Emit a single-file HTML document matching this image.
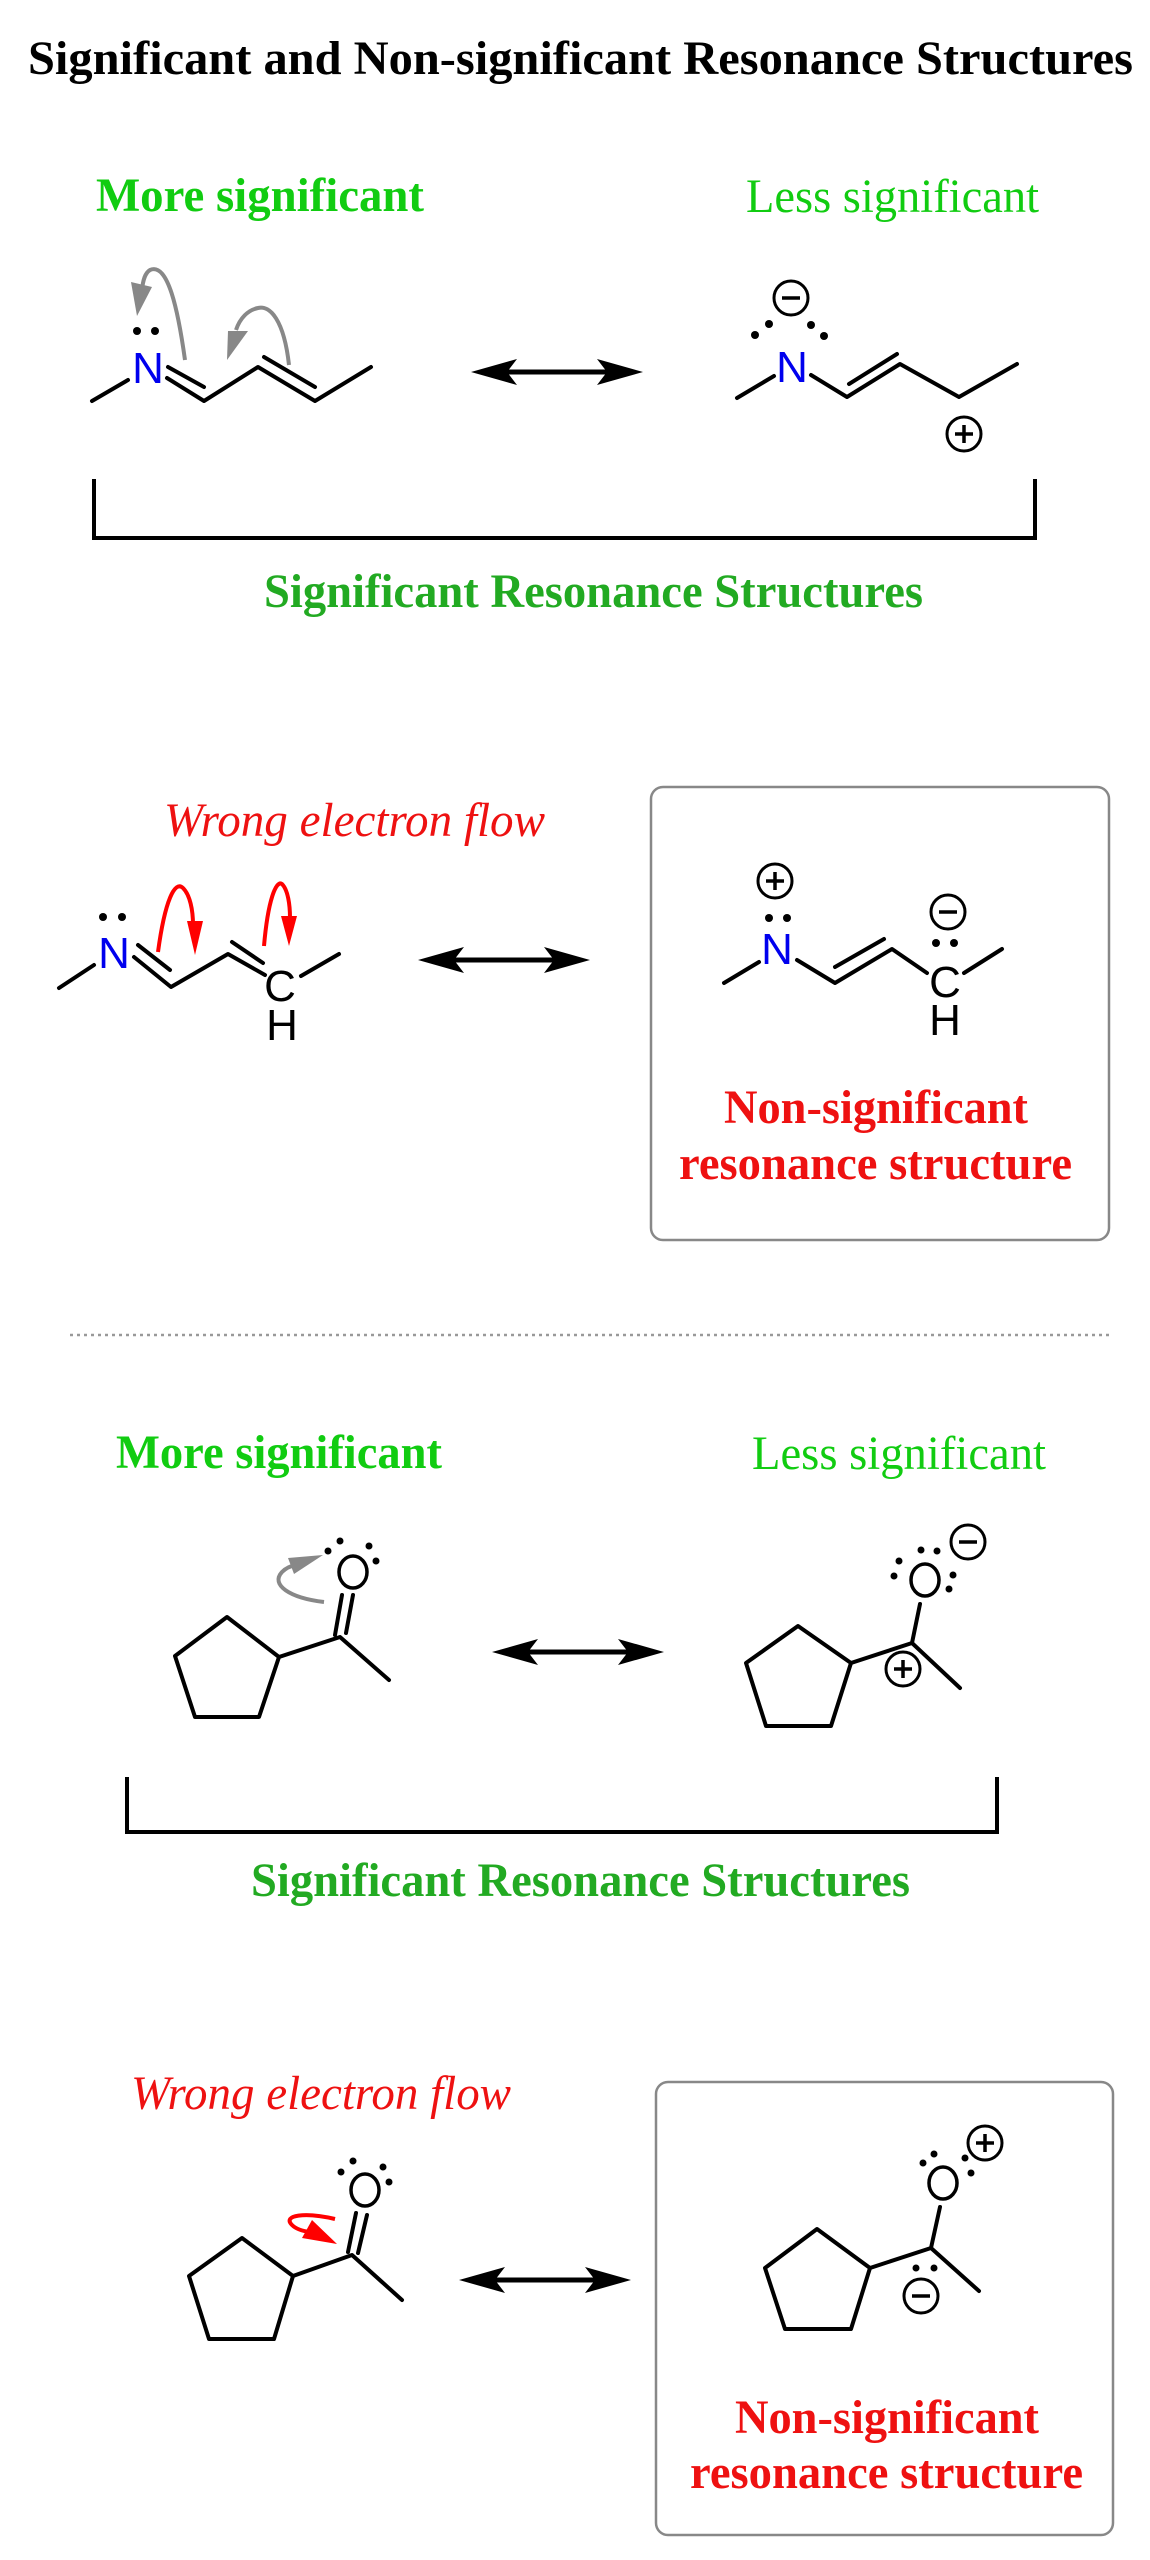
<!DOCTYPE html>
<html><head><meta charset="utf-8"><style>
html,body{margin:0;padding:0;background:#fff;}
svg{display:block;}
.b{stroke:#000;stroke-width:4;fill:none;stroke-linecap:round;stroke-linejoin:round;}
.ser{font-family:"Liberation Serif",serif;}
.sans{font-family:"Liberation Sans",sans-serif;}
</style></head><body>
<svg width="1150" height="2560" viewBox="0 0 1150 2560" xmlns="http://www.w3.org/2000/svg">
<defs>
<g id="plus"><circle r="17" fill="#fff" stroke="#000" stroke-width="3"/><path d="M-9,0H9M0,-9V9" stroke="#000" stroke-width="3.5"/></g>
<g id="minus"><circle r="17" fill="#fff" stroke="#000" stroke-width="3"/><path d="M-9,0H9" stroke="#000" stroke-width="3.5"/></g>
<g id="dbl"><path d="M-60,0 H60" stroke="#000" stroke-width="5"/><path d="M86,0 L40,-13 L50,0 L40,13 Z" fill="#000"/><path d="M-86,0 L-40,-13 L-50,0 L-40,13 Z" fill="#000"/></g>
</defs>

<text class="ser" x="28" y="74" font-size="48" font-weight="bold" textLength="1105" lengthAdjust="spacingAndGlyphs">Significant and Non-significant Resonance Structures</text>

<!-- Section 1 -->
<text class="ser" x="96" y="211" font-size="48" font-weight="bold" fill="#11cc11" textLength="328" lengthAdjust="spacingAndGlyphs">More significant</text>
<text class="ser" x="746" y="212" font-size="48" fill="#11cc11" textLength="293" lengthAdjust="spacingAndGlyphs">Less significant</text>

<path class="b" d="M92,401 L128,380"/>
<text class="sans" x="148" y="383" font-size="44" fill="#0000ee" text-anchor="middle">N</text>
<path class="b" d="M167,378 L204,401 L258,367 L315,401 L371,367"/>
<path class="b" d="M168,367 L204,387"/>
<path class="b" d="M264,357 L315,387"/>
<circle cx="137" cy="331" r="4" fill="#000"/><circle cx="155" cy="331" r="4" fill="#000"/>
<path d="M185,360 C178,310 168,262 150,270 C145,273 143,280 142,290" stroke="#888" stroke-width="4" fill="none"/>
<path d="M137,316 L131,282 L152,287 Z" fill="#888"/>
<path d="M289,365 C284,320 270,305 258,308 C248,310 240,318 236,330" stroke="#888" stroke-width="4" fill="none"/>
<path d="M227,360 L228,331 L248,331 Z" fill="#888"/>

<use href="#dbl" x="557" y="372"/>

<path class="b" d="M737,398 L774,376"/>
<text class="sans" x="792" y="382" font-size="44" fill="#0000ee" text-anchor="middle">N</text>
<path class="b" d="M811,375 L847,397 L900,364 L959,397 L1017,364"/>
<path class="b" d="M849,384 L897,354"/>
<use href="#minus" x="791" y="298"/>
<circle cx="755" cy="335" r="4" fill="#000"/><circle cx="769" cy="324" r="4" fill="#000"/>
<circle cx="811" cy="325" r="4" fill="#000"/><circle cx="824" cy="336" r="4" fill="#000"/>
<use href="#plus" x="964" y="434"/>

<path d="M94,479 V538 H1035 V479" stroke="#000" stroke-width="4" fill="none"/>
<text class="ser" x="264" y="607" font-size="48" font-weight="bold" fill="#22aa22" textLength="659" lengthAdjust="spacingAndGlyphs">Significant Resonance Structures</text>

<!-- Section 2 -->
<text class="ser" x="164" y="836" font-size="48" font-style="italic" fill="#ee1111" textLength="381" lengthAdjust="spacingAndGlyphs">Wrong electron flow</text>

<path class="b" d="M59,988 L94,965"/>
<text class="sans" x="114" y="968" font-size="44" fill="#0000ee" text-anchor="middle">N</text>
<circle cx="103" cy="917" r="4" fill="#000"/><circle cx="122" cy="917" r="4" fill="#000"/>
<path class="b" d="M134,957 L171,987 L228,954 L265,975"/>
<path class="b" d="M138,945 L170,970"/>
<path class="b" d="M232,942 L263,963"/>
<text class="sans" x="280" y="1001" font-size="44" text-anchor="middle">C</text>
<text class="sans" x="282" y="1040" font-size="44" text-anchor="middle">H</text>
<path class="b" d="M301,976 L339,954"/>
<path d="M158,952 C165,900 175,880 183,888 C190,895 193,910 193,925" stroke="#f00" stroke-width="4" fill="none"/>
<path d="M195,955 L187,921 L203,921 Z" fill="#f00"/>
<path d="M264,946 C268,900 276,880 282,884 C288,890 290,905 290,918" stroke="#f00" stroke-width="4" fill="none"/>
<path d="M289,946 L281,916 L297,916 Z" fill="#f00"/>

<use href="#dbl" x="504" y="960"/>

<rect x="651" y="787" width="458" height="453" rx="12" fill="none" stroke="#888" stroke-width="2.5"/>
<use href="#plus" x="775" y="881"/>
<circle cx="769" cy="918" r="4" fill="#000"/><circle cx="787" cy="918" r="4" fill="#000"/>
<path class="b" d="M724,983 L759,962"/>
<text class="sans" x="777" y="964" font-size="44" fill="#0000ee" text-anchor="middle">N</text>
<path class="b" d="M797,960 L835,983 L892,949 L927,973"/>
<path class="b" d="M835,967 L884,939"/>
<use href="#minus" x="948" y="912"/>
<circle cx="936" cy="943" r="4" fill="#000"/><circle cx="954" cy="943" r="4" fill="#000"/>
<text class="sans" x="945" y="997" font-size="44" text-anchor="middle">C</text>
<text class="sans" x="945" y="1035" font-size="44" text-anchor="middle">H</text>
<path class="b" d="M964,973 L1002,949"/>
<text class="ser" x="724" y="1123" font-size="48" font-weight="bold" fill="#ee1111" textLength="304" lengthAdjust="spacingAndGlyphs">Non-significant</text>
<text class="ser" x="679" y="1179" font-size="48" font-weight="bold" fill="#ee1111" textLength="393" lengthAdjust="spacingAndGlyphs">resonance structure</text>

<path d="M70,1335 H1109" stroke="#999" stroke-width="2.5" stroke-dasharray="3,4"/>

<!-- Section 3 -->
<text class="ser" x="116" y="1468" font-size="48" font-weight="bold" fill="#11cc11" textLength="326" lengthAdjust="spacingAndGlyphs">More significant</text>
<text class="ser" x="752" y="1469" font-size="48" fill="#11cc11" textLength="294" lengthAdjust="spacingAndGlyphs">Less significant</text>

<path class="b" d="M227,1617 L279,1657 L259,1717 L195,1717 L175,1656 Z"/>
<path class="b" d="M279,1657 L340,1637 L389,1680"/>
<path class="b" d="M342,1595 L335,1635"/>
<path class="b" d="M353,1595 L346,1633"/>
<ellipse cx="353" cy="1572" rx="14" ry="16" fill="none" stroke="#000" stroke-width="3.5"/>
<circle cx="328" cy="1551" r="3.5" fill="#000"/><circle cx="340" cy="1541" r="3.5" fill="#000"/>
<circle cx="369" cy="1546" r="3.5" fill="#000"/><circle cx="376" cy="1561" r="3.5" fill="#000"/>
<path d="M324,1602 C290,1598 270,1585 282,1572 C286,1568 290,1566 296,1565" stroke="#888" stroke-width="4" fill="none"/>
<path d="M323,1555 L288,1558 L294,1574 Z" fill="#888"/>

<use href="#dbl" x="578" y="1652"/>

<path class="b" d="M798,1626 L851,1663 L831,1726 L766,1726 L746,1663 Z"/>
<path class="b" d="M851,1663 L912,1643 L960,1688"/>
<path class="b" d="M920,1604 L912,1643"/>
<ellipse cx="925" cy="1580" rx="14" ry="16" fill="none" stroke="#000" stroke-width="3.5"/>
<circle cx="921" cy="1550" r="3.5" fill="#000"/><circle cx="937" cy="1551" r="3.5" fill="#000"/>
<circle cx="899" cy="1561" r="3.5" fill="#000"/><circle cx="894" cy="1576" r="3.5" fill="#000"/>
<circle cx="953" cy="1575" r="3.5" fill="#000"/><circle cx="949" cy="1589" r="3.5" fill="#000"/>
<use href="#minus" x="968" y="1542"/>
<use href="#plus" x="903" y="1669"/>

<path d="M127,1777 V1832 H997 V1777" stroke="#000" stroke-width="4" fill="none"/>
<text class="ser" x="251" y="1896" font-size="48" font-weight="bold" fill="#22aa22" textLength="659" lengthAdjust="spacingAndGlyphs">Significant Resonance Structures</text>

<!-- Section 4 -->
<text class="ser" x="131" y="2109" font-size="48" font-style="italic" fill="#ee1111" textLength="380" lengthAdjust="spacingAndGlyphs">Wrong electron flow</text>

<path class="b" d="M242,2238 L293,2276 L274,2339 L209,2339 L189,2276 Z"/>
<path class="b" d="M293,2276 L352,2255 L402,2300"/>
<path class="b" d="M356,2213 L348,2252"/>
<path class="b" d="M367,2215 L358,2253"/>
<ellipse cx="365" cy="2190" rx="14" ry="16" fill="none" stroke="#000" stroke-width="3.5"/>
<circle cx="341" cy="2172" r="3.5" fill="#000"/><circle cx="353" cy="2161" r="3.5" fill="#000"/>
<circle cx="383" cy="2167" r="3.5" fill="#000"/><circle cx="389" cy="2182" r="3.5" fill="#000"/>
<path d="M335,2219 C305,2212 282,2215 292,2225 C296,2229 302,2231 310,2232" stroke="#f00" stroke-width="4" fill="none"/>
<path d="M337,2244 L312,2220 L302,2238 Z" fill="#f00"/>

<use href="#dbl" x="545" y="2280"/>

<rect x="656" y="2082" width="457" height="453" rx="12" fill="none" stroke="#888" stroke-width="2.5"/>
<path class="b" d="M817,2229 L870,2268 L851,2329 L785,2329 L765,2268 Z"/>
<path class="b" d="M870,2268 L931,2248 L979,2291"/>
<path class="b" d="M940,2207 L931,2248"/>
<ellipse cx="943" cy="2183" rx="14" ry="16" fill="none" stroke="#000" stroke-width="3.5"/>
<circle cx="934" cy="2154" r="3.5" fill="#000"/><circle cx="923" cy="2163" r="3.5" fill="#000"/>
<circle cx="965" cy="2158" r="3.5" fill="#000"/><circle cx="971" cy="2173" r="3.5" fill="#000"/>
<use href="#plus" x="985" y="2143"/>
<circle cx="916" cy="2268" r="3.5" fill="#000"/><circle cx="934" cy="2268" r="3.5" fill="#000"/>
<use href="#minus" x="921" y="2296"/>
<text class="ser" x="735" y="2433" font-size="48" font-weight="bold" fill="#ee1111" textLength="304" lengthAdjust="spacingAndGlyphs">Non-significant</text>
<text class="ser" x="690" y="2488" font-size="48" font-weight="bold" fill="#ee1111" textLength="393" lengthAdjust="spacingAndGlyphs">resonance structure</text>
</svg>
</body></html>
